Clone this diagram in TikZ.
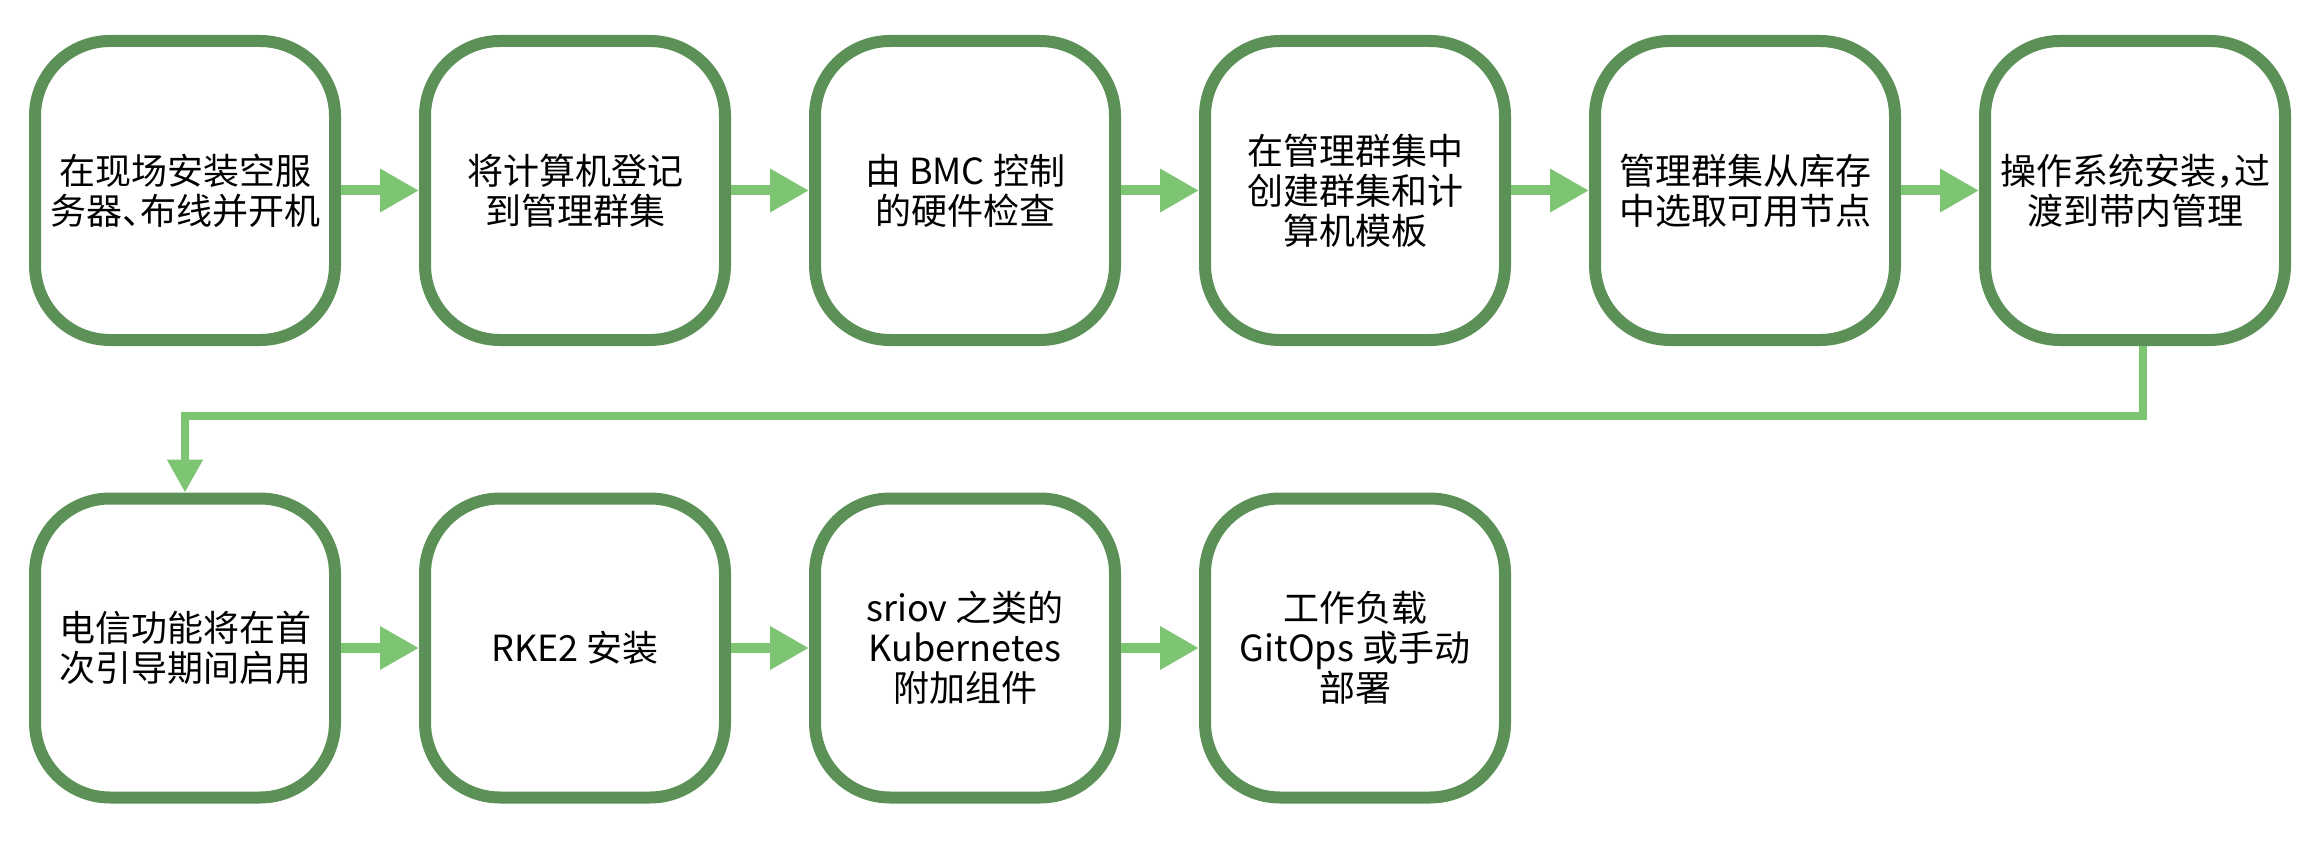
\documentclass[tikz,border=0pt]{standalone}
\usepackage{fontspec}
\setmainfont{Noto Sans CJK SC}
\newfontfamily\halfpunct[RawFeature=+halt]{Noto Sans CJK SC}
\usetikzlibrary{arrows.meta,positioning}
\definecolor{boxgreen}{RGB}{91,145,87}
\definecolor{arrowgreen}{RGB}{125,196,115}

\begin{document}
\begin{tikzpicture}[x=1pt,y=1pt,
    stage/.style={draw=boxgreen,line width=12pt,rounded corners=75pt,fill=white,
      minimum width=300pt,minimum height=299pt,align=center,
      font=\fontsize{36}{40}\selectfont},
    flow/.style={draw=arrowgreen,line width=10pt,-{Triangle[length=39pt,width=41pt]}},
    link/.style={draw=arrowgreen,line width=8pt,-{Triangle[length=33pt,width=34pt]}}]
  \useasboundingbox (0,0) rectangle (2320,-850);
  % first row
  \node[stage](s1) at (185,-190.5) {在现场安装空服\\务器{\halfpunct 、}布线并开机};
  \node[stage](s2) at (575,-190.5) {将计算机登记\\到管理群集};
  \node[stage](s3) at (965,-190.5) {由 BMC 控制\\的硬件检查};
  \node[stage](s4) at (1355,-190.5) {在管理群集中\\创建群集和计\\算机模板};
  \node[stage](s5) at (1745,-190.5) {管理群集从库存\\中选取可用节点};
  \node[stage](s6) at (2135,-190.5) {操作系统安装{\halfpunct ，}过\\渡到带内管理};
  % second row
  \node[stage](s7) at (185,-648) {电信功能将在首\\次引导期间启用};
  \node[stage](s8) at (575,-648) {RKE2 安装};
  \node[stage](s9) at (965,-648) {sriov 之类的\\Kubernetes\\附加组件};
  \node[stage](s10) at (1355,-648) {工作负载\\GitOps 或手动\\部署};
  \draw[flow] (s1) -- (s2);
  \draw[flow] (s2) -- (s3);
  \draw[flow] (s3) -- (s4);
  \draw[flow] (s4) -- (s5);
  \draw[flow] (s5) -- (s6);
  \coordinate (turn) at (0,-416);
  \draw[link] ([xshift=8pt]s6.south) -- ([xshift=8pt]s6.south |- turn) -| (s7.north);
  \draw[flow] (s7) -- (s8);
  \draw[flow] (s8) -- (s9);
  \draw[flow] (s9) -- (s10);
\end{tikzpicture}
\end{document}
